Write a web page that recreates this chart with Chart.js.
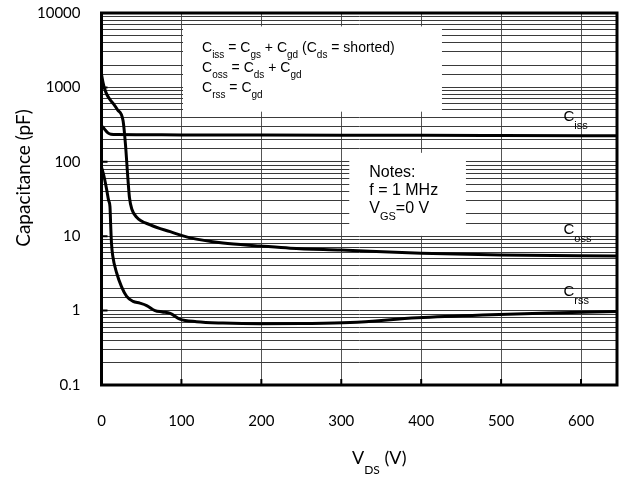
<!DOCTYPE html>
<html>
<head>
<meta charset="utf-8">
<script src="https://cdn.jsdelivr.net/npm/chart.js@4.4.1/dist/chart.umd.min.js"></script>
<style>
  html, body { margin: 0; padding: 0; background: #fff; }
  #wrap { width: 626px; height: 482px; }
</style>
</head>
<body>
<div id="wrap"><canvas id="cap"></canvas></div>
<script>
// capacitance vs drain-source voltage
const cissV  = [0, 2, 5, 8, 12, 20, 50, 100, 200, 300, 400, 500, 645];
const cissPf = [300, 290, 265, 245, 235, 232, 231, 230, 229, 228, 227, 226, 224];

const cossV  = [0, 2, 4, 7, 10, 15, 20, 27, 30, 33, 35, 38, 44, 61, 86, 111, 152, 198, 236, 300, 400, 500, 645];
const cossPf = [1500, 1150, 950, 790, 700, 600, 500, 355, 170, 60, 33, 23, 18, 14.2, 11.5, 9.5, 8.1, 7.4, 6.9, 6.5, 5.9, 5.6, 5.4];

const crssV  = [0, 3, 6.5, 9, 10.6, 11.5, 12.5, 14, 19, 25, 31.5, 39.5, 48, 56.5, 67, 76, 86, 98, 119, 152, 198, 250, 311, 395, 477, 560, 645];
const crssPf = [85, 65, 42, 30, 25, 14, 8, 5.5, 3.2, 2.1, 1.55, 1.33, 1.26, 1.17, 1.0, 0.96, 0.92, 0.77, 0.71, 0.68, 0.665, 0.67, 0.69, 0.80, 0.875, 0.93, 0.97];

const xTicks = [0, 100, 200, 300, 400, 500, 600];
const yDecades = [0.1, 1, 10, 100, 1000, 10000];

function pts(xs, ys) {
  return xs.map((v, i) => ({ x: v, y: ys[i] }));
}

function richText(ctx, x, y, parts, size, subSize, subDy) {
  ctx.textAlign = "left";
  ctx.textBaseline = "middle";
  ctx.fillStyle = "#000";
  parts.forEach(([t, sub]) => {
    ctx.font = (sub ? subSize : size) + 'px "Liberation Sans", Arial, sans-serif';
    ctx.fillText(t, x, sub ? y + subDy : y);
    x += ctx.measureText(t).width;
  });
}

const extras = {
  id: "extras",
  beforeDatasetsDraw(chart) {
    const ctx = chart.ctx, xs = chart.scales.x, ys = chart.scales.y;
    ctx.save();
    // formula box
    let l = xs.getPixelForValue(102), t = ys.getPixelForValue(6600);
    let r = xs.getPixelForValue(426), b = ys.getPixelForValue(472);
    ctx.fillStyle = "#fff";
    ctx.fillRect(l, t, r - l, b - t);
    richText(ctx, l + 19, t + 22, [["C"], ["iss", 1], [" = C"], ["gs", 1], [" + C"], ["gd", 1], [" (C"], ["ds", 1], [" = shorted)"]], 14, 10, 7);
    richText(ctx, l + 19, t + 42, [["C"], ["oss", 1], [" = C"], ["ds", 1], [" + C"], ["gd", 1]], 14, 10, 7);
    richText(ctx, l + 19, t + 62, [["C"], ["rss", 1], [" = C"], ["gd", 1]], 14, 10, 7);

    // notes box
    l = xs.getPixelForValue(310); t = ys.getPixelForValue(132);
    r = xs.getPixelForValue(456); b = ys.getPixelForValue(10.1);
    ctx.fillStyle = "#fff";
    ctx.fillRect(l, t, r - l, b - t);
    richText(ctx, l + 20, t + 20, [["Notes:"]], 16, 11, 8);
    richText(ctx, l + 20, t + 38, [["f = 1 MHz"]], 16, 11, 8);
    richText(ctx, l + 20, t + 56, [["V"], ["GS", 1], ["=0 V"]], 16, 11, 8);
    ctx.restore();
  },
  afterDatasetsDraw(chart) {
    const ctx = chart.ctx, a = chart.chartArea;
    const xs = chart.scales.x, ys = chart.scales.y;
    ctx.save();
    // plot frame
    ctx.strokeStyle = "#000";
    ctx.lineWidth = 3;
    ctx.strokeRect(a.left, a.top, a.right - a.left, a.bottom - a.top);
    // small inside tick marks
    ctx.lineWidth = 2;
    ctx.beginPath();
    yDecades.forEach((v) => {
      const y = ys.getPixelForValue(v);
      ctx.moveTo(a.left, y);
      ctx.lineTo(a.left + 6, y);
    });
    xTicks.forEach((v) => {
      const x = xs.getPixelForValue(v);
      ctx.moveTo(x, a.bottom);
      ctx.lineTo(x, a.bottom - 6);
    });
    ctx.stroke();

    // curve labels
    const lx = xs.getPixelForValue(578);
    richText(ctx, lx, ys.getPixelForValue(400), [["C"], ["iss", 1]], 15, 11, 9);
    richText(ctx, lx, ys.getPixelForValue(12.2), [["C"], ["oss", 1]], 15, 11, 9);
    richText(ctx, lx, ys.getPixelForValue(1.79), [["C"], ["rss", 1]], 15, 11, 9);

    // axis titles
    ctx.fillStyle = "#000";
    ctx.textBaseline = "middle";
    ctx.textAlign = "center";
    ctx.font = '19px Lato, sans-serif';
    ctx.translate(24, 178);
    ctx.rotate(-Math.PI / 2);
    ctx.fillText("Capacitance (pF)", 0, 0);
    ctx.setTransform(1, 0, 0, 1, 0, 0);
    ctx.scale(chart.currentDevicePixelRatio, chart.currentDevicePixelRatio);
    ctx.textAlign = "left";
    let x = 352;
    ctx.font = '18px Lato, sans-serif';
    ctx.fillText("V", x, 458);
    x += ctx.measureText("V").width;
    ctx.font = '12px Lato, sans-serif';
    ctx.fillText("DS", x, 470);
    x += ctx.measureText("DS").width;
    ctx.font = '18px Lato, sans-serif';
    ctx.fillText(" (V)", x, 458);
    ctx.restore();
  }
};

const line = (xs, ys) => ({
  data: pts(xs, ys),
  borderColor: "#000",
  borderWidth: 3,
  pointRadius: 0,
  fill: false,
  cubicInterpolationMode: "monotone"
});

new Chart(document.getElementById("cap"), {
  type: "line",
  data: {
    datasets: [line(cissV, cissPf), line(cossV, cossPf), line(crssV, crssPf)]
  },
  options: {
    responsive: true,
    maintainAspectRatio: false,
    animation: false,
    layout: { padding: { top: 13, right: 9, left: 0, bottom: 0 } },
    plugins: { legend: { display: false }, tooltip: { enabled: false } },
    scales: {
      x: {
        type: "linear",
        min: 0,
        max: 645,
        afterFit: (s) => { s.height = 97; s.paddingLeft = 0; s.paddingRight = 0; },
        ticks: {
          stepSize: 100,
          includeBounds: false,
          padding: 27,
          color: "#000",
          font: { family: "Lato", size: 15 }
        },
        grid: { color: "#555", lineWidth: 1, drawTicks: false },
        border: { display: false }
      },
      y: {
        type: "logarithmic",
        min: 0.1,
        max: 10000,
        afterFit: (s) => { s.width = 101.5; s.paddingTop = 0; s.paddingBottom = 0; },
        ticks: {
          autoSkip: false,
          padding: 21,
          color: "#000",
          font: { family: "Lato", size: 15 },
          callback: (v) => yDecades.includes(v) ? String(v) : ""
        },
        grid: { color: "#3a3a3a", lineWidth: 1, drawTicks: false },
        border: { display: false }
      }
    }
  },
  plugins: [extras]
});
</script>
</body>
</html>
